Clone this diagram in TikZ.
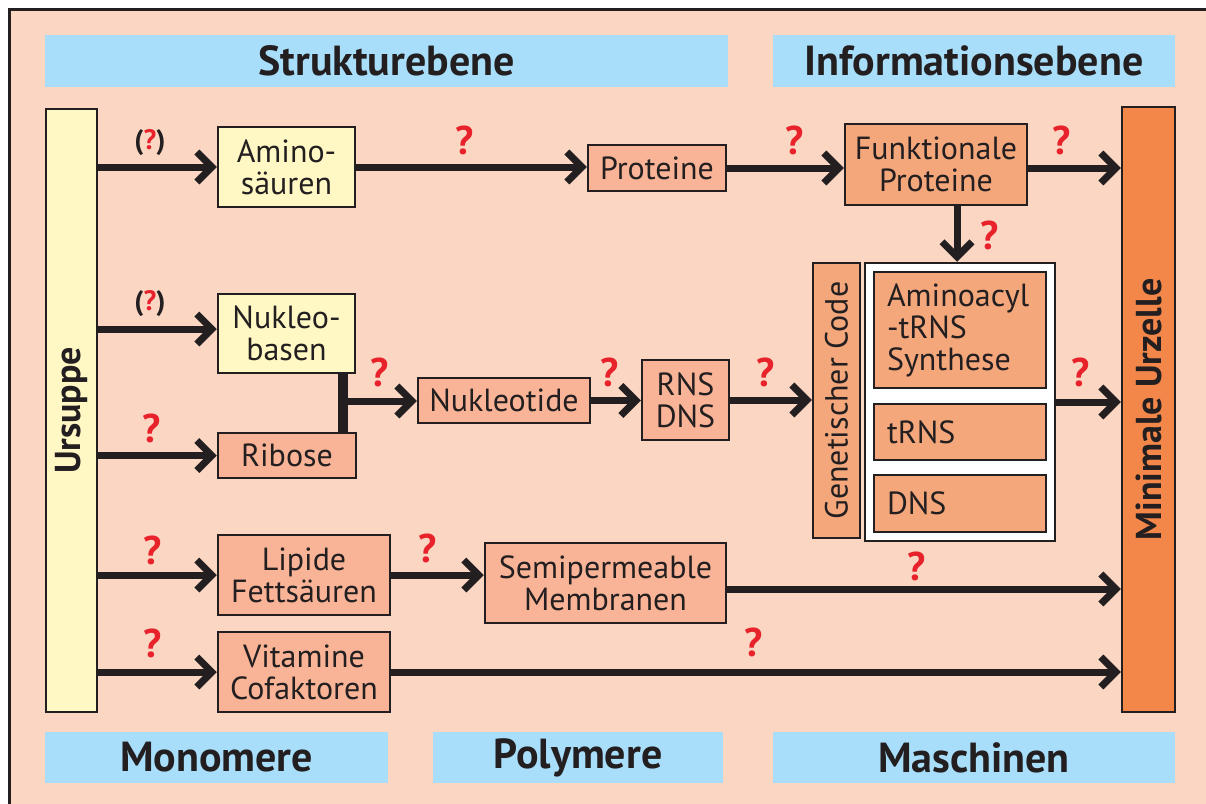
\documentclass[tikz,border=0pt]{standalone}
\usepackage{fontspec}
\setmainfont{PT Sans}
\usepackage{graphicx}
\usetikzlibrary{arrows.meta}

\definecolor{ink}{HTML}{231F20}
\definecolor{peach}{HTML}{FAD6C3}
\definecolor{sky}{HTML}{A8DEFA}
\definecolor{cream}{HTML}{FFF8C4}
\definecolor{salmon}{HTML}{F9B497}
\definecolor{apricot}{HTML}{F5A77C}
\definecolor{tangerine}{HTML}{F3874A}
\definecolor{qred}{HTML}{E8222A}

\begin{document}
\begin{tikzpicture}[x=1pt,y=-1pt,
  box/.style={draw=ink,line width=2.5pt,inner sep=0pt,align=center,text=ink,font=\fontsize{32}{32}\selectfont},
  gelb/.style={box,fill=cream},
  lachs/.style={box,fill=salmon},
  orange/.style={box,fill=apricot},
  band/.style={fill=sky,inner sep=0pt,text=ink,font=\fontsize{42}{42}\selectfont\bfseries},
  pfeil/.style={draw=ink,line width=7pt,-{Straight Barb[length=15pt,width=30pt,sharp]}},
  frage/.style={text=qred,font=\fontsize{40}{40}\selectfont\bfseries},
  klammer/.style={text=ink,font=\fontsize{28}{30}\selectfont\bfseries}]
\useasboundingbox (0,0) rectangle (1206,803);
\draw[line width=3pt,draw=ink,fill=peach] (9,9) rectangle (1240,840);

\node[band,minimum width=683pt,minimum height=52pt] (struk) at (386.5,61) {Strukturebene};
\node[band,minimum width=402pt,minimum height=52pt] (info) at (974,61) {Informationsebene};
\node[band,minimum width=343pt,minimum height=51pt] (mono) at (216.5,757.5) {Monomere};
\node[band,minimum width=290pt,minimum height=51pt] (poly) at (578,757.5) {Polymere};
\node[band,minimum width=402pt,minimum height=51pt] (masch) at (974,757.5) {Maschinen};

\node[gelb,minimum width=51pt,minimum height=603pt,font=\fontsize{36}{36}\selectfont\bfseries] (ursuppe) at (71.5,410.5) {\rotatebox{90}{Ursuppe}};
\node[box,fill=tangerine,minimum width=53pt,minimum height=605pt,font=\fontsize{36}{36}\selectfont\bfseries] (urzelle) at (1148.5,409.5) {\rotatebox{90}{Minimale Urzelle}};

\node[gelb,minimum width=137pt,minimum height=80pt] (amino) at (286.5,167) {Amino-\\säuren};
\node[lachs,minimum width=138pt,minimum height=46pt] (prot) at (657,168) {Proteine};
\node[orange,minimum width=182pt,minimum height=81pt] (funk) at (936,164.5) {Funktionale\\Proteine};

\node[gelb,minimum width=137pt,minimum height=79pt] (nbasen) at (286.5,333.5) {Nukleo-\\basen};
\node[lachs,minimum width=138pt,minimum height=45pt] (ribose) at (287,455.5) {Ribose};
\node[lachs,minimum width=172pt,minimum height=45pt] (nukl) at (504,400.5) {Nukleotide};
\node[lachs,minimum width=87pt,minimum height=80pt] (rna) at (685.5,400) {RNS\\DNS};
\node[orange,minimum width=47pt,minimum height=275pt] (gencode) at (836.5,400.5) {\rotatebox{90}{Genetischer Code}};

\node[draw=ink,fill=white,line width=2.5pt,minimum width=190pt,minimum height=278pt] (rahmen) at (960,402) {};
\node[orange,minimum width=172pt,minimum height=116pt,text width=146pt,align=left] (aars) at (960,330) {Aminoacyl\\-tRNS\\Synthese};
\node[orange,minimum width=172pt,minimum height=56pt,text width=146pt,align=left] (trns) at (960,432) {tRNS};
\node[orange,minimum width=172pt,minimum height=57pt,text width=146pt,align=left] (dns) at (960,503.5) {DNS};

\node[lachs,minimum width=172pt,minimum height=80pt] (lipide) at (304,575) {Lipide\\Fettsäuren};
\node[lachs,minimum width=241pt,minimum height=80pt] (memb) at (605.5,583) {Semipermeable\\Membranen};
\node[lachs,minimum width=172pt,minimum height=80pt] (vitam) at (304,672) {Vitamine\\Cofaktoren};

\draw[pfeil] (ursuppe.east |- amino) -- (amino.west);
\draw[pfeil] (amino.east) -- (amino.east -| prot.west);
\draw[pfeil] (prot.east) -- (prot.east -| funk.west);
\draw[pfeil] (funk.east |- prot.east) -- (urzelle.west |- prot.east);
\draw[pfeil] ([xshift=21pt]funk.south) -- ([xshift=21pt]funk.south |- rahmen.north);

\draw[pfeil] ([yshift=4.5pt]ursuppe.east |- nbasen.west) -- ([yshift=4.5pt]nbasen.west);
\draw[pfeil] (ursuppe.east |- ribose) -- (ribose.west);
\coordinate (knoten) at (343,401);
\draw[draw=ink,line width=10pt] (knoten |- nbasen.south) -- (knoten |- ribose.north);
\draw[pfeil] (knoten) -- (knoten -| nukl.west);
\draw[pfeil] (nukl.east) -- (nukl.east -| rna.west);
\draw[pfeil] (rna.east) -- (rna.east -| gencode.west);
\draw[pfeil] (rahmen.east) -- (rahmen.east -| urzelle.west);

\draw[pfeil] (ursuppe.east |- lipide) -- (lipide.west);
\draw[pfeil] (lipide.east) -- (lipide.east -| memb.west);
\draw[pfeil] ([yshift=-6pt]memb.east) -- ([yshift=-6pt]memb.east -| urzelle.west);
\draw[pfeil] (ursuppe.east |- vitam) -- (vitam.west);
\draw[pfeil] (vitam.east) -- (vitam.east -| urzelle.west);

\node[klammer] (qa) at (150,143) {(\textcolor{qred}{?})};
\node[frage] (qb) at (465,140) {?};
\node[frage] (qc) at (795,140) {?};
\node[frage] (qd) at (1062,140) {?};
\node[frage] (qe) at (990,235) {?};
\node[klammer] (qf) at (150,304) {(\textcolor{qred}{?})};
\node[frage] (qg) at (152,428) {?};
\node[frage] (qh) at (380,372) {?};
\node[frage] (qi) at (610,372) {?};
\node[frage] (qj) at (766,372) {?};
\node[frage] (qk) at (1081,372) {?};
\node[frage] (ql) at (153,550) {?};
\node[frage] (qm) at (428,548) {?};
\node[frage] (qn) at (917,566) {?};
\node[frage] (qo) at (153,643) {?};
\node[frage] (qp) at (754,642) {?};
\end{tikzpicture}
\end{document}
